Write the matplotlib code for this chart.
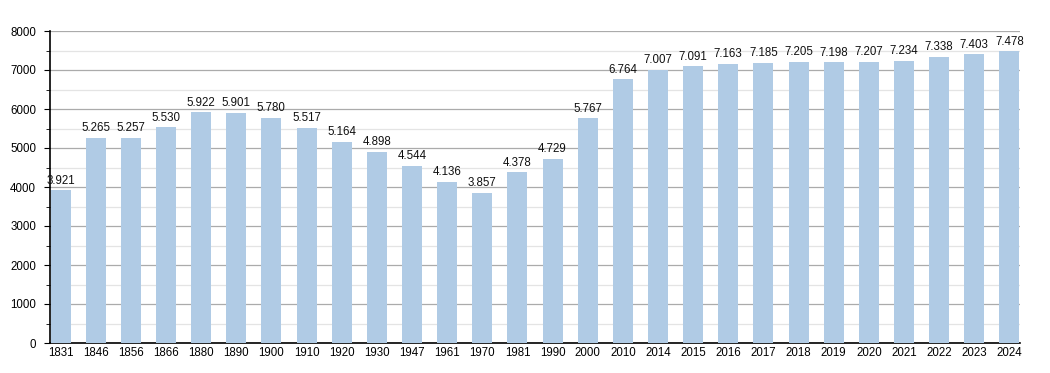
import matplotlib.pyplot as plt
import numpy as np

# data
years = ["1831", "1846", "1856", "1866", "1880", "1890", "1900", "1910", "1920",
         "1930", "1947", "1961", "1970", "1981", "1990", "2000", "2010", "2014",
         "2015", "2016", "2017", "2018", "2019", "2020", "2021", "2022", "2023", "2024"]
population = [3921, 5265, 5257, 5530, 5922, 5901, 5780, 5517, 5164, 4898, 4544,
              4136, 3857, 4378, 4729, 5767, 6764, 7007, 7091, 7163, 7185, 7205,
              7198, 7207, 7234, 7338, 7403, 7478]
y_ticks = [0, 1000, 2000, 3000, 4000, 5000, 6000, 7000, 8000]

plt.rcParams['font.family'] = ['Liberation Sans', 'DejaVu Sans']

fig = plt.figure(figsize=(10.5, 3.73), dpi=100)
ax = fig.add_axes([50 / 1050, 30 / 373, 970 / 1050, 312 / 373])

x = np.arange(len(years))
bars = ax.bar(x, population, width=0.57, color='#b0cbe5', zorder=3)

# value labels with dot as thousands separator
for xi, v in zip(x, population):
    ax.text(xi, v + 90, f"{v:,}".replace(",", "."), ha='center', va='bottom',
            fontsize=8.3, color='#111111', zorder=4)

ax.set_xlim(-0.3, len(years) - 0.7)
ax.set_ylim(0, 8000)
ax.set_xticks(x)
ax.set_xticklabels(years)
ax.set_yticks(y_ticks)
ax.set_yticks(np.arange(500, 8000, 1000), minor=True)

ax.grid(axis='y', which='major', color='#ababab', linewidth=0.9, zorder=1)
ax.grid(axis='y', which='minor', color='#e4e4e4', linewidth=0.9, zorder=1)

for s in ['top', 'right']:
    ax.spines[s].set_visible(False)
ax.spines['left'].set_linewidth(1.2)
ax.spines['bottom'].set_linewidth(1.2)

ax.tick_params(axis='x', length=0, labelsize=8.3, pad=3)
ax.tick_params(axis='y', which='major', length=4, labelsize=8.3, pad=6)
ax.tick_params(axis='y', which='minor', length=3)

fig.savefig("out.png", dpi=100)
